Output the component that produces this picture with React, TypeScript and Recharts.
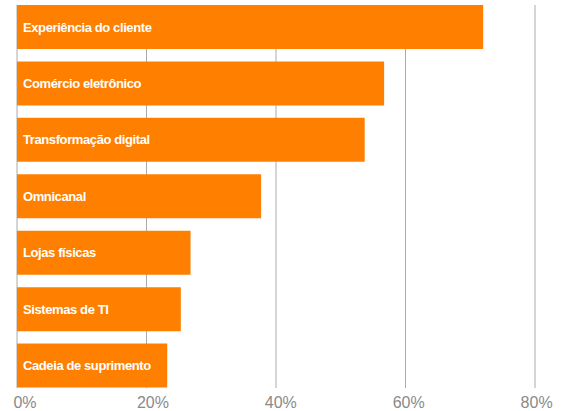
import { BarChart, Bar, XAxis, YAxis, CartesianGrid, LabelList } from "recharts";

const categories = [
  "Experiência do cliente",
  "Comércio eletrônico",
  "Transformação digital",
  "Omnicanal",
  "Lojas físicas",
  "Sistemas de TI",
  "Cadeia de suprimento",
];
const shares = [72, 56.7, 53.7, 37.7, 26.8, 25.3, 23.2];
const xTicks = [0, 20, 40, 60, 80];

const data = categories.map((name, i) => ({ name, value: shares[i] }));

const ORANGE = "#FF8000";
const GRID = "#ABABAB";
const FONT = '"Liberation Sans", Arial, Helvetica, sans-serif';

function XTick(props: any) {
  const { x, y, payload, index } = props;
  // labels sit slightly right of their gridline, less so further right
  const dx = 8 - index * 1.6;
  return (
    <text
      x={x + dx}
      y={y}
      dy={12}
      textAnchor="middle"
      fill="#8A8A8A"
      fontSize={16}
      fontFamily={FONT}
    >
      {`${payload.value}%`}
    </text>
  );
}

function BarName(props: any) {
  const { x, y, height, value } = props;
  return (
    <text
      x={x + 6}
      y={y + height / 2}
      dominantBaseline="central"
      fill="#FFFFFF"
      fontSize={13}
      fontWeight={700}
      letterSpacing={-0.4}
      fontFamily={FONT}
    >
      {value}
    </text>
  );
}

export default function App() {
  return (
    <div style={{ position: "absolute", left: 0, top: 0, width: 565, height: 411 }}>
      <BarChart
        width={565}
        height={411}
        data={data}
        layout="vertical"
        margin={{ top: 5, right: 30, bottom: 0, left: 17 }}
      >
        <CartesianGrid horizontal={false} stroke={GRID} strokeWidth={1} />
        <XAxis
          type="number"
          domain={[0, 80]}
          ticks={xTicks}
          axisLine={false}
          tickLine={false}
          height={23}
          tick={<XTick />}
          interval={0}
        />
        <YAxis
          type="category"
          dataKey="name"
          hide
          padding={{ top: -6, bottom: -6 }}
        />
        <Bar dataKey="value" fill={ORANGE} barSize={44} isAnimationActive={false}>
          <LabelList dataKey="name" content={<BarName />} />
        </Bar>
      </BarChart>
    </div>
  );
}
